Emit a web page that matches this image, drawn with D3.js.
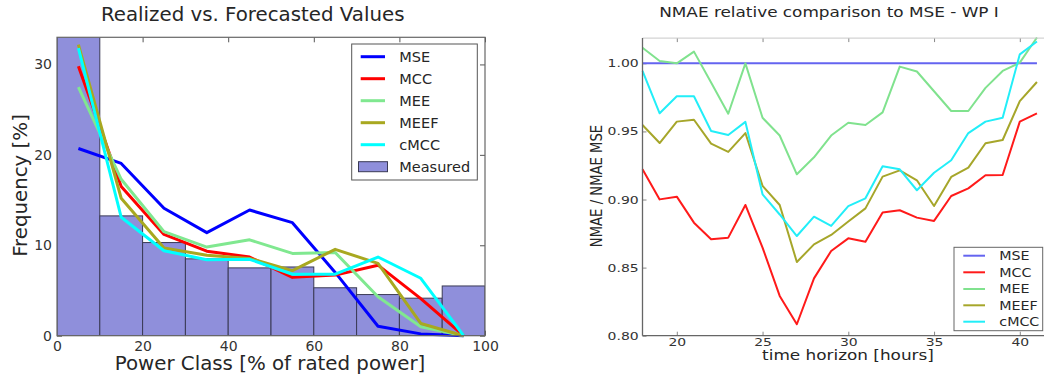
<!DOCTYPE html>
<html>
<head>
<meta charset="utf-8">
<script src="https://cdn.jsdelivr.net/npm/d3@7"></script>
<style>
  body { margin: 0; background: #fff; }
  svg { display: block; font-family: "DejaVu Sans", sans-serif; }
</style>
</head>
<body>
<svg id="chart" width="1044" height="377"></svg>
<script>
// ---------- Histogram panel: frequency per power class ----------
const binStarts = [0, 10, 20, 30, 40, 50, 60, 70, 80, 90];
const classCenters = [5, 15, 25, 35, 45, 55, 65, 75, 85, 95];
const measured = [33.5, 13.25, 10.3, 8.5, 7.5, 7.6, 5.3, 4.55, 4.15, 5.5];
const freqMSE  = [20.7, 19.05, 14.1, 11.4, 13.9, 12.5, 7.0, 1.05, 0.2, 0];
const freqMCC  = [29.8, 16.5, 11.2, 9.35, 8.7, 6.45, 6.7, 7.8, 4.1, 0];
const freqMEE  = [27.5, 17.3, 11.5, 9.8, 10.6, 9.1, 9.2, 4.3, 1.0, 0];
const freqMEEF = [32.2, 15.2, 9.7, 8.9, 8.55, 7.2, 9.55, 8.0, 1.35, 0];
const freqCMCC = [31.8, 13.1, 9.4, 8.4, 8.45, 6.8, 6.8, 8.7, 6.35, 0];
const histXTicks = [0, 20, 40, 60, 80, 100];
const histYTicks = [0, 10, 20, 30];

// ---------- NMAE panel: ratio to MSE per forecast horizon ----------
const hours = d3.range(18, 42);
const nmaeMSE  = hours.map(() => 1.0);
const nmaeMCC  = [0.9222, 0.9001, 0.9021, 0.8830, 0.8708, 0.8720, 0.8960, 0.8647, 0.8292, 0.8084, 0.8421, 0.8622,
                  0.8715, 0.8690, 0.8904, 0.8921, 0.8867, 0.8843, 0.9026, 0.9082, 0.9178, 0.9180, 0.9572, 0.9633];
const nmaeMEE  = [1.0115, 1.0017, 1.0000, 1.0086, 0.9860, 0.9630, 1.0000, 0.9600, 0.9470, 0.9185, 0.9310, 0.9470,
                  0.9564, 0.9547, 0.9640, 0.9976, 0.9940, 0.9795, 0.9650, 0.9650, 0.9820, 0.9944, 1.0005, 1.0190];
const nmaeMEEF = [0.9547, 0.9415, 0.9572, 0.9586, 0.9410, 0.9350, 0.9488, 0.9100, 0.8960, 0.8541, 0.8671, 0.8740,
                  0.8838, 0.8935, 0.9168, 0.9214, 0.9141, 0.8952, 0.9166, 0.9234, 0.9413, 0.9437, 0.9723, 0.9863];
const nmaeCMCC = [0.9944, 0.9633, 0.9758, 0.9758, 0.9503, 0.9474, 0.9570, 0.9038, 0.8890, 0.8732, 0.8874, 0.8806,
                  0.8952, 0.9009, 0.9244, 0.9222, 0.9068, 0.9197, 0.9288, 0.9488, 0.9572, 0.9601, 1.0066, 1.0160];
const nmaeXTicks = [20, 25, 30, 35, 40];
const nmaeYTicks = [0.80, 0.85, 0.90, 0.95, 1.00];

const seriesNames = ["MSE", "MCC", "MEE", "MEEF", "cMCC"];
const histColors = ["#0000ff", "#ff0000", "#80e890", "#a8a820", "#00ffff"];
const nmaeColors = ["#6464f0", "#ff1a1a", "#80e28e", "#a6a62a", "#22eef8"];

const svg = d3.select("#chart");

// text helper: optional horizontal stretch and rotation
function addText(g, x, y, str, o) {
  const sx = o.sx || 1, rot = o.rotate || 0;
  return g.append("text")
    .attr("transform", `translate(${x},${y}) scale(${sx},1) rotate(${rot})`)
    .attr("text-anchor", o.anchor || "start")
    .attr("font-size", o.size)
    .attr("fill", o.fill || "#262626")
    .text(str);
}

// ================= Left panel =================
(function () {
  const L = 57, R = 485, T = 37.3, B = 335.7;
  const x = d3.scaleLinear().domain([0, 100]).range([L, R]);
  const y = d3.scaleLinear().domain([0, 33]).range([B, T]);
  const g = svg.append("g");

  g.append("clipPath").attr("id", "clipL")
    .append("rect").attr("x", L).attr("y", T).attr("width", R - L).attr("height", B - T);

  // inward ticks on all four sides
  const tickCol = "#555";
  const axB = g.append("g").attr("transform", `translate(0,${B})`)
    .call(d3.axisBottom(x).tickValues(histXTicks).tickSize(-5).tickSizeOuter(0).tickPadding(5));
  const axT = g.append("g").attr("transform", `translate(0,${T})`)
    .call(d3.axisTop(x).tickValues(histXTicks).tickSize(-5).tickSizeOuter(0).tickFormat(""));
  const axLft = g.append("g").attr("transform", `translate(${L},0)`)
    .call(d3.axisLeft(y).tickValues(histYTicks).tickSize(-5).tickSizeOuter(0).tickPadding(5));
  const axRgt = g.append("g").attr("transform", `translate(${R},0)`)
    .call(d3.axisRight(y).tickValues(histYTicks).tickSize(-5).tickSizeOuter(0).tickFormat(""));
  [axB, axT, axLft, axRgt].forEach(a => {
    a.select(".domain").remove();
    a.selectAll("line").attr("stroke", tickCol);
    a.selectAll("text").attr("font-size", 14).attr("fill", "#333").attr("font-family", "DejaVu Sans");
  });

  // measured histogram bars
  g.append("g").attr("clip-path", "url(#clipL)")
    .selectAll("rect").data(binStarts).join("rect")
    .attr("x", d => x(d))
    .attr("y", (d, i) => y(measured[i]))
    .attr("width", d => x(d + 10) - x(d))
    .attr("height", (d, i) => B - y(measured[i]))
    .attr("fill", "#8f8fdb")
    .attr("stroke", "#3a3a55")
    .attr("stroke-width", 1);

  // forecast frequency curves
  const series = [freqMSE, freqMCC, freqMEE, freqMEEF, freqCMCC];
  const line = d3.line().x((d, i) => x(classCenters[i])).y(d => y(d));
  series.forEach((s, k) => {
    g.append("path").datum(s)
      .attr("d", line)
      .attr("fill", "none")
      .attr("stroke", histColors[k])
      .attr("stroke-width", 3)
      .attr("stroke-linejoin", "round");
  });

  // frame
  g.append("rect").attr("x", L).attr("y", T).attr("width", R - L).attr("height", B - T)
    .attr("fill", "none").attr("stroke", "#666").attr("stroke-width", 1.2);

  // legend
  const lg = g.append("g");
  lg.append("rect").attr("x", 351.7).attr("y", 44).attr("width", 125.6).attr("height", 136)
    .attr("fill", "#fff").attr("stroke", "#555").attr("stroke-width", 1);
  const rowY = [56.7, 78.7, 100.7, 122.7, 144.7, 166.7];
  seriesNames.forEach((n, k) => {
    lg.append("line").attr("x1", 360.7).attr("x2", 385).attr("y1", rowY[k]).attr("y2", rowY[k])
      .attr("stroke", histColors[k]).attr("stroke-width", 3);
    addText(lg, 399.3, rowY[k] + 5, n, { size: 14.5 });
  });
  lg.append("rect").attr("x", 358.5).attr("y", rowY[5] - 5).attr("width", 29).attr("height", 10)
    .attr("fill", "#8f8fdb").attr("stroke", "#3a3a55").attr("stroke-width", 1);
  addText(lg, 399.3, rowY[5] + 5, "Measured", { size: 14.5 });

  // titles
  addText(g, 252.7, 20.5, "Realized vs. Forecasted Values", { size: 19.8, anchor: "middle" });
  addText(g, 270, 369.5, "Power Class [% of rated power]", { size: 19.8, anchor: "middle" });
  addText(g, 26.5, 185.5, "Frequency [%]", { size: 19.8, anchor: "middle", rotate: -90 });
})();

// ================= Right panel =================
(function () {
  const L = 642.5, T = 36.1, B = 335.7;
  const x = d3.scaleLinear().domain([18, 42]).range([L, L + 24 * 17.15]);
  const y = d3.scaleLinear().domain([0.80, 1.02]).range([B, T]);
  const R = x(42);
  const sx = 1.27;
  const g = svg.append("g");

  const axB = g.append("g").attr("transform", `translate(0,${B})`)
    .call(d3.axisBottom(x).tickValues(nmaeXTicks).tickSize(-4).tickSizeOuter(0).tickPadding(3));
  const axT = g.append("g").attr("transform", `translate(0,${T + 2})`)
    .call(d3.axisTop(x).tickValues(nmaeXTicks).tickSize(-4).tickSizeOuter(0).tickFormat(""));
  const axLft = g.append("g").attr("transform", `translate(${L},0)`)
    .call(d3.axisLeft(y).tickValues(nmaeYTicks).tickSize(-4).tickSizeOuter(0).tickPadding(3)
      .tickFormat(d3.format(".2f")));
  [axB, axT, axLft].forEach(a => {
    a.select(".domain").remove();
    a.selectAll("line").attr("stroke", "#888");
    a.selectAll("text").attr("font-size", 11).attr("fill", "#333")
      .attr("font-family", "DejaVu Sans").attr("transform", `scale(${sx},1)`);
  });

  const series = [nmaeMSE, nmaeMCC, nmaeMEE, nmaeMEEF, nmaeCMCC];
  const line = d3.line().x((d, i) => x(hours[i])).y(d => y(d));
  series.forEach((s, k) => {
    g.append("path").datum(s)
      .attr("d", line)
      .attr("fill", "none")
      .attr("stroke", nmaeColors[k])
      .attr("stroke-width", 2)
      .attr("stroke-linejoin", "round");
  });

  // spines
  g.append("line").attr("x1", L).attr("x2", R).attr("y1", T + 2).attr("y2", T + 2)
    .attr("stroke", "#c8c8c8").attr("stroke-width", 1);
  g.append("line").attr("x1", L).attr("x2", L).attr("y1", T + 2).attr("y2", B)
    .attr("stroke", "#666").attr("stroke-width", 1.3);
  g.append("line").attr("x1", L).attr("x2", R).attr("y1", B).attr("y2", B)
    .attr("stroke", "#666").attr("stroke-width", 1.3);

  // legend
  const lg = g.append("g");
  lg.append("rect").attr("x", 954).attr("y", 247.3).attr("width", 88.7).attr("height", 83.4)
    .attr("fill", "#fff").attr("stroke", "#666").attr("stroke-width", 1);
  const rowY = [255.7, 272.3, 289, 305.3, 321.7];
  seriesNames.forEach((n, k) => {
    lg.append("line").attr("x1", 963.3).attr("x2", 985).attr("y1", rowY[k]).attr("y2", rowY[k])
      .attr("stroke", nmaeColors[k]).attr("stroke-width", 2);
    addText(lg, 999.3, rowY[k] + 4.2, n, { size: 11.4, sx: 1.25 });
  });

  addText(g, 829, 16.5, "NMAE relative comparison to MSE - WP I", { size: 13.5, sx: 1.25, anchor: "middle" });
  addText(g, 848, 360, "time horizon [hours]", { size: 13.5, sx: 1.25, anchor: "middle" });
  addText(g, 601.5, 186, "NMAE / NMAE MSE", { size: 13.2, sx: 1.22, anchor: "middle", rotate: -90 });
})();
</script>
</body>
</html>
